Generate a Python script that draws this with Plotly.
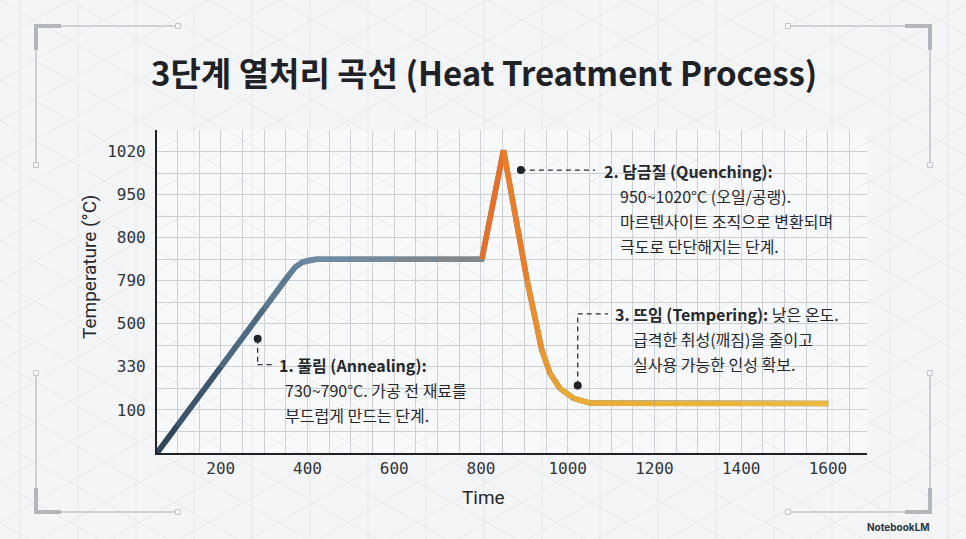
import math
import plotly.graph_objects as go

# ---------------- data ----------------
title_text = "3단계 열처리 곡선 (Heat Treatment Process)"
y_tick_labels = ["100", "330", "500", "790", "800", "950", "1020"]
y_tick_levels = [0, 1, 2, 3, 4, 5, 6]
x_tick_vals = [200, 400, 600, 800, 1000, 1200, 1400, 1600]

# curve (time, temperature level on the labelled axis)
time = [53, 100, 200, 300, 355, 372, 388, 404, 420, 500, 600, 700, 802, 852,
        906, 940, 959, 982, 1013, 1052, 1200, 1400, 1601]
level = [-1.0, -0.36, 1.0, 2.36, 3.11, 3.32, 3.43, 3.48, 3.50, 3.50, 3.50, 3.50, 3.50, 6.03,
         3.02, 1.40, 0.85, 0.50, 0.27, 0.16, 0.15, 0.15, 0.15]

# colour stops along time
color_stop_time = [53, 420, 790, 805, 852, 1000, 1600]
color_stop_rgb = [(44, 66, 86), (108, 139, 164), (135, 135, 135), (226, 108, 44),
                  (233, 116, 40), (234, 172, 52), (235, 186, 70)]

# annotation markers: (time, level)
ann_dots_t = [285, 892, 1023]
ann_dots_l = [1.65, 5.57, 0.565]

# ---------------- helpers ----------------
W, H = 966, 539
L, R, T, B = 157, 867, 130, 453


def px_x(p):
    return (p - L) / (R - L)


def px_y(p):
    return (B - p) / (B - T)


def color_at(t):
    for i in range(len(color_stop_time) - 1):
        t0, t1 = color_stop_time[i], color_stop_time[i + 1]
        if t <= t1 or i == len(color_stop_time) - 2:
            f = max(0.0, min(1.0, (t - t0) / (t1 - t0)))
            c0, c1 = color_stop_rgb[i], color_stop_rgb[i + 1]
            c = [round(c0[k] + (c1[k] - c0[k]) * f) for k in range(3)]
            return f"rgb({c[0]},{c[1]},{c[2]})"


fig = go.Figure()

# base path (fills joins)
fig.add_trace(go.Scatter(x=time, y=level, mode="lines",
                         line=dict(color=color_at(600), width=5.5),
                         hoverinfo="skip", showlegend=False))
# gradient segments
for i in range(len(time) - 1):
    mid = (time[i] + time[i + 1]) / 2
    fig.add_trace(go.Scatter(x=time[i:i + 2], y=level[i:i + 2], mode="lines",
                             line=dict(color=color_at(mid), width=5.5),
                             hoverinfo="skip", showlegend=False))

# annotation dots
fig.add_trace(go.Scatter(x=ann_dots_t, y=ann_dots_l, mode="markers",
                         marker=dict(color="#1f2328", size=8),
                         hoverinfo="skip", showlegend=False))

dash = dict(color="#2a2e33", width=1.3, dash="5px,4px")
shapes = [
    # connector 1
    dict(type="line", xref="x", yref="y", x0=285, y0=1.65, x1=285, y1=1.05, line=dash),
    dict(type="line", xref="x", yref="y", x0=285, y0=1.05, x1=318, y1=1.05, line=dash),
    # connector 2
    dict(type="line", xref="x", yref="y", x0=892, y0=5.57, x1=1063, y1=5.57, line=dash),
    # connector 3
    dict(type="line", xref="x", yref="y", x0=1023, y0=0.565, x1=1023, y1=2.23, line=dash),
    dict(type="line", xref="x", yref="y", x0=1023, y0=2.23, x1=1093, y1=2.23, line=dash),
]

# background lattice (decorative)
lat = "rgba(190,196,204,0.22)"
step = 58
k = math.tan(math.radians(30))
for i in range(-20, 40):
    x0 = i * step * 1.2
    shapes.append(dict(type="line", xref="paper", yref="paper", layer="below",
                       x0=px_x(x0), y0=px_y(0), x1=px_x(x0 + H / k), y1=px_y(H),
                       line=dict(color=lat, width=1)))
    shapes.append(dict(type="line", xref="paper", yref="paper", layer="below",
                       x0=px_x(x0), y0=px_y(0), x1=px_x(x0 - H / k), y1=px_y(H),
                       line=dict(color=lat, width=1)))
for i in range(0, 18):
    xv = 20 + i * 58
    shapes.append(dict(type="line", xref="paper", yref="paper", layer="below",
                       x0=px_x(xv), y0=px_y(0), x1=px_x(xv), y1=px_y(H),
                       line=dict(color=lat, width=1)))

# corner brackets
thin = dict(color="#c3c7cc", width=1.6)
thick = dict(color="#b3b7bc", width=4)
brackets = [(36, 26, 1, 1), (930, 26, -1, 1), (36, 512, 1, -1), (930, 512, -1, -1)]
for cx, cy, sx, sy in brackets:
    shapes.append(dict(type="line", xref="paper", yref="paper", x0=px_x(cx), y0=px_y(cy),
                       x1=px_x(cx + sx * 142), y1=px_y(cy), line=thin))
    shapes.append(dict(type="line", xref="paper", yref="paper", x0=px_x(cx), y0=px_y(cy),
                       x1=px_x(cx), y1=px_y(cy + sy * 139), line=thin))
    shapes.append(dict(type="line", xref="paper", yref="paper", x0=px_x(cx - sx * 2), y0=px_y(cy),
                       x1=px_x(cx + sx * 25), y1=px_y(cy), line=thick))
    shapes.append(dict(type="line", xref="paper", yref="paper", x0=px_x(cx), y0=px_y(cy),
                       x1=px_x(cx), y1=px_y(cy + sy * 24), line=thick))
    for ex, ey in [(cx + sx * 142, cy), (cx, cy + sy * 139)]:
        shapes.append(dict(type="rect", xref="paper", yref="paper",
                           x0=px_x(ex - 2.5), x1=px_x(ex + 2.5), y0=px_y(ey - 2.5), y1=px_y(ey + 2.5),
                           line=dict(color="#c3c7cc", width=1), fillcolor="#f4f5f7"))

KR = "Noto Sans CJK KR"
anns = []


def txt(x, y, s, bold=False, size=16, anchor="left", color="#25292e", font=KR):
    anns.append(dict(xref="paper", yref="paper", x=px_x(x), y=px_y(y), text=s,
                     showarrow=False, xanchor=anchor, yanchor="middle",
                     font=dict(family=font, size=size, color=color,
                               weight="bold" if bold else "normal")))


txt(484, 72, title_text, bold=True, size=33, anchor="center", color="#1e2227")
# annotation 1
txt(277, 365, "<b>1. 풀림 (Annealing):</b>")
txt(283, 390, "730~790°C. 가공 전 재료를")
txt(283, 415, "부드럽게 만드는 단계.")
# annotation 2
txt(602, 171, "<b>2. 담금질 (Quenching):</b>")
txt(618, 196, "950~1020°C (오일/공랭).")
txt(618, 221, "마르텐사이트 조직으로 변환되며")
txt(618, 246, "극도로 단단해지는 단계.")
# annotation 3
txt(613, 314, "<b>3. 뜨임 (Tempering):</b> 낮은 온도.")
txt(631, 339, "급격한 취성(깨짐)을 줄이고")
txt(631, 364, "실사용 가능한 인성 확보.")
# axis titles
txt(483, 497, "Time", size=19, anchor="center", font="Roboto")
anns.append(dict(xref="paper", yref="paper", x=px_x(89), y=px_y(267), text="Temperature (°C)",
                 showarrow=False, textangle=-90, xanchor="center", yanchor="middle",
                 font=dict(family="Roboto", size=19, color="#25292e")))
# watermark
txt(932, 527, "<b>NotebookLM</b>", size=10, anchor="right", color="#30343a", font="Inter")

grid = "#cdd1d6"
fig.update_layout(
    width=W, height=H,
    margin=dict(l=L, r=W - R, t=T, b=H - B),
    paper_bgcolor="#f4f5f7",
    plot_bgcolor="#f8f9fa",
    showlegend=False,
    shapes=shapes,
    annotations=anns,
    xaxis=dict(range=[53, 1690], tickvals=x_tick_vals, ticktext=[str(v) for v in x_tick_vals],
               showgrid=True, gridcolor=grid, gridwidth=1,
               minor=dict(dtick=50, tick0=0, showgrid=True, gridcolor=grid, gridwidth=1),
               showline=True, linecolor="#1f2328", linewidth=2.2, zeroline=False,
               ticks="", tickfont=dict(family="DejaVu Sans Mono", size=16, color="#30343a")),
    yaxis=dict(range=[-1, 6.5], tickvals=y_tick_levels, ticktext=y_tick_labels,
               showgrid=True, gridcolor=grid, gridwidth=1,
               minor=dict(dtick=0.5, tick0=0, showgrid=True, gridcolor=grid, gridwidth=1),
               showline=True, linecolor="#1f2328", linewidth=2.2, zeroline=False,
               ticks="", ticklabelstandoff=6,
               tickfont=dict(family="DejaVu Sans Mono", size=16, color="#30343a")),
)

fig.write_html("out.html", config={"displayModeBar": False},
               post_script="document.body.style.margin='0';document.body.style.overflow='hidden';")
